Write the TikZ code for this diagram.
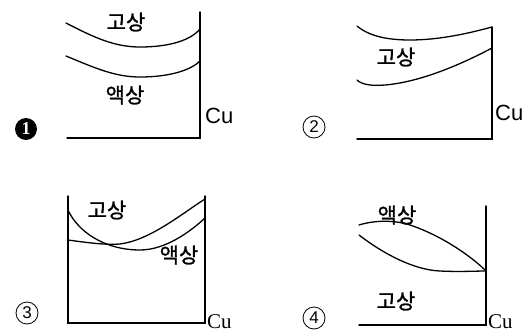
\documentclass[tikz,border=0pt]{standalone}
\usepackage{fontspec}
\newfontfamily\kr{Noto Sans CJK KR}[FakeBold=1.2]
\newfontfamily\cusans{Liberation Sans}
\newfontfamily\cuserif{Liberation Serif}
\begin{document}
\begin{tikzpicture}[x=1pt,y=-1pt,
  axis/.style={line width=1.4pt,line cap=round},
  curve/.style={line width=1.3pt,line cap=round},
  phase/.style={font=\kr\fontsize{21}{21}\selectfont,inner sep=0pt},
  cusans/.style={font=\cusans\fontsize{22}{22}\selectfont,inner sep=0pt,anchor=west},
  cuserif/.style={font=\cuserif\fontsize{21}{21}\selectfont,inner sep=0pt,anchor=west},
  num/.style={circle,draw,line width=0.8pt,minimum size=22pt,inner sep=0pt,font=\cusans\fontsize{17}{17}\selectfont},
  numfill/.style={circle,fill=black,text=white,minimum size=22pt,inner sep=0pt,font=\cuserif\bfseries\fontsize{18}{18}\selectfont}]
\useasboundingbox (0,0) rectangle (528,335);
% Panel 1
\draw[axis] (200,12) -- (200,138) -- (67,138);
\draw[curve] (66,23) .. controls (95,38) and (115,47) .. (140,47) .. controls (170,47) and (191,40) .. (200,29);
\draw[curve] (66,56) .. controls (95,68) and (115,77) .. (140,77) .. controls (170,77) and (191,70) .. (200,61);
\node[phase] (g1) at (126,22) {고상};
\node[phase] (a1) at (125,95) {액상};
\node[cusans] (cu1) at (205,116) {Cu};
\node[numfill] (n1) at (26,129) {1};
% Panel 2
\draw[axis] (492,27) -- (492,139) -- (357,139);
\draw[curve] (357,26) .. controls (370,37) and (390,40) .. (410,40) .. controls (440,40) and (470,33) .. (492,27);
\draw[curve] (357,80) .. controls (362,85) and (373,86) .. (385,85) .. controls (420,82) and (460,65) .. (492,48);
\node[phase] (g2) at (396,57) {고상};
\node[cusans] (cu2) at (495,113) {Cu};
\node[num] (n2) at (314,127) {2};
% Panel 3
\draw[axis] (68,196) -- (68,323) -- (205,323) -- (205,196);
\draw[curve] (68,210) .. controls (78,232) and (105,250) .. (140,250) .. controls (165,250) and (190,232) .. (205,218);
\draw[curve] (68,240) .. controls (90,243) and (105,245) .. (120,244) .. controls (150,240) and (180,215) .. (205,199);
\node[phase] (g3) at (107,210) {고상};
\node[phase] (a3) at (179,255) {액상};
\node[cuserif] (cu3) at (207,322) {Cu};
\node[num] (n3) at (27,313) {3};
% Panel 4
\draw[axis] (486,206) -- (486,325) -- (359,325);
\draw[curve] (359,225) .. controls (375,220) and (395,220) .. (410,225) .. controls (440,235) and (470,255) .. (486,271);
\draw[curve] (359,235) .. controls (385,255) and (415,270) .. (440,271) .. controls (460,272) and (475,271) .. (486,271);
\node[phase] (a4) at (397,215) {액상};
\node[phase] (g4) at (396,301) {고상};
\node[cuserif] (cu4) at (488,322) {Cu};
\node[num] (n4) at (314,318) {4};
\end{tikzpicture}
\end{document}
